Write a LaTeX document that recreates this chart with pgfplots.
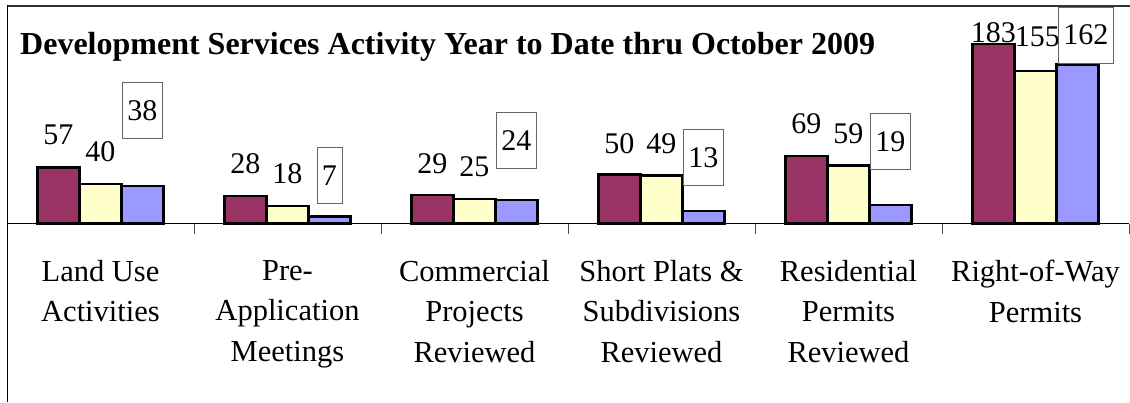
\documentclass[border=0pt]{standalone}
\usepackage{fontspec}
\setmainfont{Liberation Serif}
\usepackage{pgfplots}
\usepackage{pgfplotstable}
\pgfplotsset{compat=1.18}
\definecolor{sermaroon}{HTML}{993366}
\definecolor{sercream}{HTML}{FFFFCC}
\definecolor{serlav}{HTML}{9999FF}

\pgfplotstableread{
x y
0 57
1 28
2 29
3 50
4 69
5 183
}\serA
\pgfplotstableread{
x y
0 40
1 18
2 25
3 49
4 59
5 155
}\serB
\pgfplotstableread{
x y
0 38
1 7
2 24
3 13
4 19
5 162
}\serC
% label positions (centre of each value label, in axis units)
\pgfplotstableread{
x y l
-0.2246 89.8 57
0.7754 61.2 28
1.7754 61.2 29
2.7754 81.6 50
3.7754 102.0 69
4.7754 193.9 183
}\labA
\pgfplotstableread{
x y l
0 73.5 40
1 51.0 18
2 58.2 25
3 81.6 49
4 91.8 59
5.01 189.8 155
}\labB
\pgfplotstableread{
x y l
0.2246 115.3 38
1.2246 49.0 7
2.2246 84.7 24
3.2246 67.3 13
4.2246 83.7 19
5.2700 191.8 162
}\labC

\begin{document}
\begin{tikzpicture}[x=1pt,y=1pt]
\useasboundingbox (0,0) rectangle (1130,402);
\begin{axis}[
  at={(7pt,178.5pt)}, anchor=south west,
  scale only axis, width=1122pt, height=217.5pt,
  xmin=-0.5, xmax=5.5, ymin=0, ymax=221.4,
  axis x line=bottom, axis y line=none,
  axis line style={-, black, line width=1pt},
  xtick={0,1,2,3,4,5},
  xticklabels={{Land Use\\Activities},{Pre-\\Application\\Meetings},{Commercial\\Projects\\Reviewed},{Short Plats \&\\Subdivisions\\Reviewed},{Residential\\Permits\\Reviewed},{Right-of-Way\\Permits}},
  major tick length=0pt,
  minor xtick={-0.5,0.5,1.5,2.5,3.5,4.5,5.5},
  minor tick length=10pt,
  tick align=outside,
  minor tick style={black!70, line width=0.8pt},
  xticklabel style={font=\fontsize{30.5}{40.5}\selectfont, align=center, anchor=north, inner sep=0pt, yshift=-36.5pt},
  clip=false,
]
\addplot[ybar, bar width=42pt, bar shift=-42pt, fill=sermaroon, draw=black, line width=2.3pt] table[x=x, y=y] \serA;
\addplot[ybar, bar width=42pt, bar shift=0pt, fill=sercream, draw=black, line width=2.3pt] table[x=x, y=y] \serB;
\addplot[ybar, bar width=42pt, bar shift=42pt, fill=serlav, draw=black, line width=2.3pt] table[x=x, y=y] \serC;
\addplot[draw=none, mark=none, nodes near coords, point meta=explicit symbolic,
  every node near coord/.append style={anchor=center, font=\fontsize{30}{36}\selectfont, inner sep=0pt, text=black}]
  table[x=x, y=y, meta=l] \labA;
\addplot[draw=none, mark=none, nodes near coords, point meta=explicit symbolic,
  every node near coord/.append style={anchor=center, font=\fontsize{30}{36}\selectfont, inner sep=0pt, text=black}]
  table[x=x, y=y, meta=l] \labB;
\addplot[draw=none, mark=none, nodes near coords, point meta=explicit symbolic,
  every node near coord/.append style={anchor=center, font=\fontsize{30}{36}\selectfont, text=black, fill=white, draw=black!60, line width=0.8pt, inner xsep=5pt, inner ysep=0pt, minimum height=56pt}]
  table[x=x, y=y, meta=l] \labC;
\end{axis}
\draw[black!80, line width=1.6pt] (7,396) -- (1130,396);
\draw[black, line width=1pt] (7.3,0) -- (7.3,396.8);
\node[anchor=base west, inner sep=0pt, font=\bfseries\fontsize{32}{38}\selectfont] at (20,347) {Development Services Activity Year to Date thru October 2009};
\end{tikzpicture}
\end{document}
